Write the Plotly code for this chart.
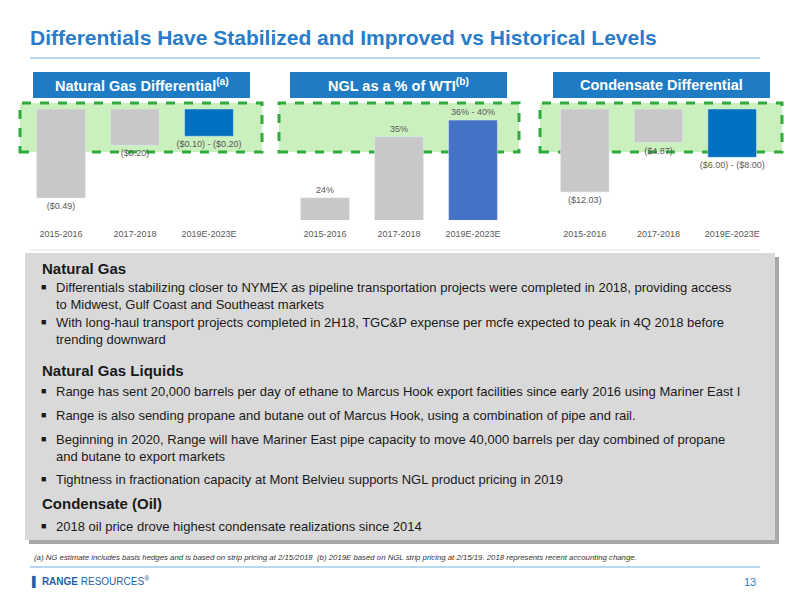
import plotly.graph_objects as go

W, H = 800, 600
OFF = 8  # page body margin in the browser

periods = ['2015-2016', '2017-2018', '2019E-2023E']
gas_diff = [-0.49, -0.20, -0.15]
gas_labels = ['($0.49)', '($0.20)', '($0.10) - ($0.20)']
ngl_pct = [24, 35, 38]
ngl_labels = ['24%', '35%', '36% - 40%']
cond_diff = [-12.03, -4.87, -7.00]
cond_labels = ['($12.03)', '($4.87)', '($6.00) - ($8.00)']

GRAY = '#c8c8c8'
BLUE = '#0070c0'
FONT = 'Liberation Sans, Arial, sans-serif'


def px(x):
    return (x - OFF) / W


def py(y):
    return 1 - (y - OFF) / H


fig = go.Figure()
fig.add_trace(go.Bar(x=periods, y=gas_diff, text=gas_labels, textposition='outside',
                     marker_color=[GRAY, GRAY, BLUE], xaxis='x', yaxis='y', width=0.66))
fig.add_trace(go.Bar(x=periods, y=ngl_pct, text=ngl_labels, textposition='outside',
                     marker_color=[GRAY, GRAY, '#4472c4'], xaxis='x2', yaxis='y2', width=0.66))
fig.add_trace(go.Bar(x=periods, y=cond_diff, text=cond_labels, textposition='outside',
                     marker_color=[GRAY, GRAY, BLUE], xaxis='x3', yaxis='y3', width=0.66))
fig.update_traces(textfont=dict(size=9, color='#595959', family=FONT), cliponaxis=False,
                  constraintext='none', showlegend=False)

ax_common = dict(showgrid=False, showline=False, ticks='', range=[-0.5, 2.5],
                 tickfont=dict(size=9, color='#595959', family=FONT))
fig.update_layout(
    width=W, height=H, margin=dict(l=0, r=0, t=0, b=0, autoexpand=False),
    paper_bgcolor='white', plot_bgcolor='rgba(0,0,0,0)', font=dict(family=FONT),
    xaxis=dict(domain=[px(24), px(246)], anchor='y', ticklabelstandoff=9, **ax_common),
    yaxis=dict(domain=[py(218), py(109)], range=[-0.6, 0], visible=False),
    xaxis2=dict(domain=[px(288), px(510)], anchor='y2', ticklabelstandoff=7, **ax_common),
    yaxis2=dict(domain=[py(220), py(109)], range=[20, 40], visible=False),
    xaxis3=dict(domain=[px(548), px(769)], anchor='y3', ticklabelstandoff=9, **ax_common),
    yaxis3=dict(domain=[py(218), py(109)], range=[-15.8, 0], visible=False),
)


def rect(x0, y0, x1, y1, **kw):
    fig.add_shape(type='rect', xref='paper', yref='paper', x0=px(x0), x1=px(x1), y0=py(y1), y1=py(y0), **kw)


def hline(x0, x1, y, color):
    fig.add_shape(type='line', xref='paper', yref='paper', x0=px(x0), x1=px(x1), y0=py(y), y1=py(y),
                  line=dict(color=color, width=1))


def text(x, y, t, size, color='#1a1a1a', anchor='left'):
    fig.add_annotation(xref='paper', yref='paper', x=px(x), y=py(y), text=t, xanchor=anchor,
                       yanchor='middle', showarrow=False, font=dict(size=size, color=color, family=FONT))


text(28, 37, '<b>Differentials Have Stabilized and Improved vs Historical Levels</b>', 21, '#2a7bc8')
hline(30, 760, 58, '#6fb0e0')

headers = ['Natural Gas Differential<sup>(a)</sup>', 'NGL as a % of WTI<sup>(b)</sup>', 'Condensate Differential']
hdr_x = [(33, 250), (290, 507), (553, 770)]
box_x = [(20, 262), (279, 519), (540, 782)]
for (h0, h1), (b0, b1), t in zip(hdr_x, box_x, headers):
    rect(h0, 72, h1, 98, fillcolor='#1f7cc4', line=dict(width=0))
    text((h0 + h1) / 2, 85, '<b>' + t + '</b>', 14.5, 'white', 'center')
    rect(b0, 103, b1, 152, layer='below', fillcolor='#c9f0bd', line=dict(color='#2faa3c', width=3, dash='dash'))
hline(30, 760, 250, '#e3e3e3')

rect(29, 257, 779, 544, layer='below', fillcolor='#a8a8a8', line=dict(width=0))
rect(25, 253, 775, 540, layer='below', fillcolor='#d9d9d9', line=dict(width=0))

for t, y in [('Natural Gas', 268), ('Natural Gas Liquids', 370), ('Condensate (Oil)', 503)]:
    text(40, y, '<b>' + t + '</b>', 15)

bullets = [
    ('Differentials stabilizing closer to NYMEX as pipeline transportation projects were completed in 2018, providing access', 287, True),
    ('to Midwest, Gulf Coast and Southeast markets', 304, False),
    ('With long-haul transport projects completed in 2H18, TGC&amp;P expense per mcfe expected to peak in 4Q 2018 before', 322, True),
    ('trending downward', 339, False),
    ('Range has sent 20,000 barrels per day of ethane to Marcus Hook export facilities since early 2016 using Mariner East I', 391, True),
    ('Range is also sending propane and butane out of Marcus Hook, using a combination of pipe and rail.', 415, True),
    ('Beginning in 2020, Range will have Mariner East pipe capacity to move 40,000 barrels per day combined of propane', 439, True),
    ('and butane to export markets', 456, False),
    ('Tightness in fractionation capacity at Mont Belvieu supports NGL product pricing in 2019', 479, True),
    ('2018 oil price drove highest condensate realizations since 2014', 526, True),
]
for t, y, mark in bullets:
    if mark:
        text(39, y, '\u25a0', 9)
    text(54, y, t, 13)

text(32, 557, '<i>(a) NG estimate includes basis hedges and is based on strip pricing at 2/15/2018  (b) 2019E based on NGL strip pricing at 2/15/19. 2018 represents recent accounting change.</i>',
     7.8, '#333333')
hline(30, 760, 567, '#6fb0e0')
text(30, 582, '<b>\u258c</b> <b>RANGE</b> RESOURCES<sup>\u00ae</sup>', 10, '#1f5fa8')
text(758, 582, '13', 11, '#1f7cc4', 'right')

fig.write_html('out.html')
